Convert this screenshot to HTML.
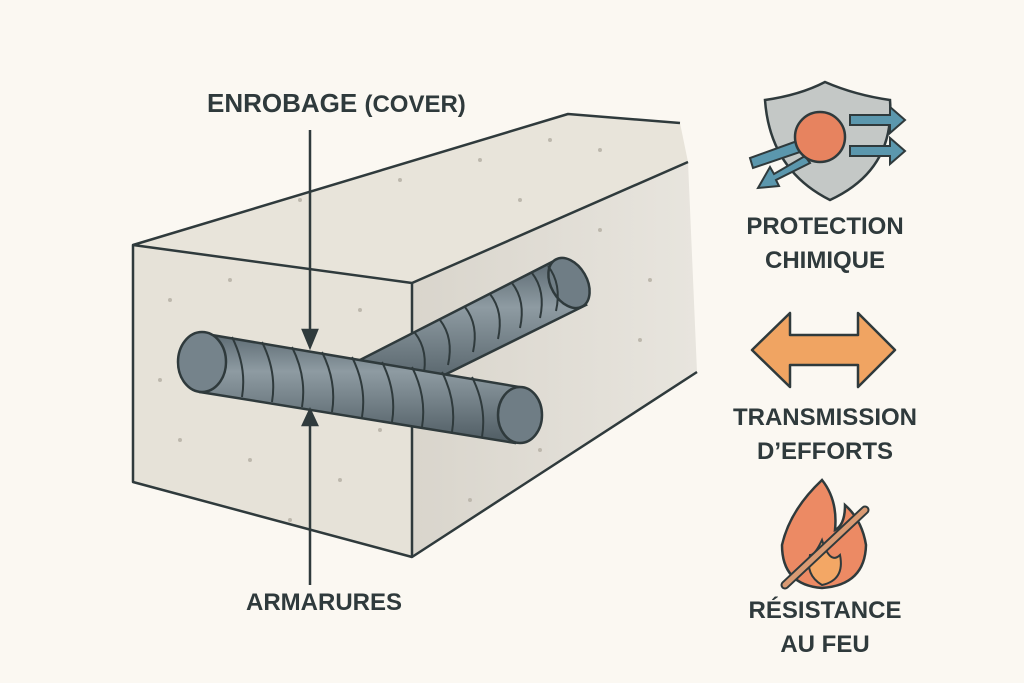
<!DOCTYPE html>
<html><head><meta charset="utf-8"><style>
html,body{margin:0;padding:0;background:#fbf8f2;}
svg{display:block}
text{font-family:"Liberation Sans",sans-serif;fill:#2f3a3c;font-weight:bold;}
</style></head><body>
<svg width="1024" height="683" viewBox="0 0 1024 683" xmlns="http://www.w3.org/2000/svg">
<defs>
<linearGradient id="bar" x1="0" y1="0" x2="0" y2="1">
<stop offset="0" stop-color="#5c6a72"/><stop offset="0.35" stop-color="#8e9ba2"/><stop offset="1" stop-color="#4f5c63"/>
</linearGradient>
<linearGradient id="side" x1="0" y1="0" x2="1" y2="0">
<stop offset="0" stop-color="#d9d5cc"/><stop offset="1" stop-color="#e8e5de"/>
</linearGradient>
</defs>
<rect width="1024" height="683" fill="#fbf8f2"/>
<polygon points="133,245 568,114 680,123 688,162 412,283" fill="#e8e4da"/>
<polygon points="412,283 688,162 697,372 412,557" fill="url(#side)"/>
<polygon points="133,245 412,283 412,557 133,482" fill="#e6e2d8"/>
<g fill="none" stroke="#2f3a3c" stroke-width="2.5" stroke-linejoin="round">
<polyline points="680,123 568,114 133,245 133,482 412,557 697,372"/>
<polyline points="133,245 412,283 688,162"/>
<line x1="412" y1="283" x2="412" y2="557"/>
</g>
<g fill="#bdb8ad">
<circle cx="170" cy="300" r="2"/><circle cx="230" cy="280" r="2"/><circle cx="360" cy="310" r="2"/><circle cx="180" cy="440" r="2"/><circle cx="250" cy="460" r="2"/><circle cx="340" cy="480" r="2"/><circle cx="380" cy="430" r="2"/><circle cx="160" cy="380" r="2"/><circle cx="290" cy="520" r="2"/>
<circle cx="300" cy="200" r="2"/><circle cx="400" cy="180" r="2"/><circle cx="480" cy="160" r="2"/><circle cx="550" cy="140" r="2"/><circle cx="520" cy="200" r="2"/><circle cx="600" cy="150" r="2"/>
<circle cx="460" cy="320" r="2"/><circle cx="600" cy="230" r="2"/><circle cx="650" cy="280" r="2"/><circle cx="540" cy="450" r="2"/><circle cx="470" cy="500" r="2"/><circle cx="640" cy="340" r="2"/>
</g>
<g stroke="#2f3a3c" stroke-width="2.5">
<path d="M360,360 L552,262 L586,305 L410,392 Z" fill="url(#bar)"/>
<ellipse cx="569" cy="283" rx="18" ry="27" transform="rotate(-30 569 283)" fill="#6f7d85"/>
<g fill="none" stroke-width="2">
<path d="M415,333 q14,18 8,45"/><path d="M440,320 q14,18 8,45"/><path d="M465,307 q14,18 8,45"/><path d="M490,294 q14,18 8,45"/><path d="M512,283 q14,18 8,45"/><path d="M532,273 q14,18 8,45"/><path d="M548,266 q14,18 8,45"/>
</g>
<path d="M200,333 L525,388 L515,443 L200,392 Z" fill="url(#bar)"/>
<ellipse cx="520" cy="415" rx="22" ry="28" fill="#6f7d85"/>
<ellipse cx="202" cy="362" rx="24" ry="30" fill="#75838b"/>
<g fill="none" stroke-width="2">
<path d="M232,337 q15,30 10,60"/><path d="M262,342 q15,30 10,60"/><path d="M292,347 q15,30 10,60"/><path d="M322,352 q15,30 10,60"/><path d="M352,357 q15,30 10,60"/><path d="M382,362 q15,30 10,60"/><path d="M412,367 q15,30 10,60"/><path d="M442,372 q15,30 10,60"/><path d="M472,377 q15,30 10,60"/>
</g>
</g>
<g stroke="#2f3a3c" stroke-width="2.5" fill="#2f3a3c">
<line x1="310" y1="130" x2="310" y2="335"/>
<polygon points="303,330 317,330 310,347"/>
<line x1="310" y1="422" x2="310" y2="585"/>
<polygon points="303,425 317,425 310,410"/>
</g>
<text x="207" y="112" font-size="26">ENROBAGE <tspan font-size="24">(COVER)</tspan></text>
<text x="246" y="610" font-size="24">ARMARURES</text>
<path d="M765,100 Q800,95 825,82 Q855,95 890,100 Q895,170 830,200 Q770,170 765,100 Z" fill="#c4c8c6" stroke="#2f3a3c" stroke-width="2.5"/>
<g fill="#5b97ad" stroke="#2f3a3c" stroke-width="2">
<polygon points="850,115 890,115 890,107 905,120 890,133 890,125 850,125"/>
<polygon points="850,146 890,146 890,138 905,151 890,164 890,156 850,156"/>
<polygon points="800,140 750,158 753,168 803,151"/>
<polygon points="805,156 774,174 770,167 758,188 779,186 776,180 810,163"/>
</g>
<circle cx="820" cy="137" r="25" fill="#e7835f" stroke="#2f3a3c" stroke-width="2.5"/>
<text x="825" y="234" font-size="24" text-anchor="middle">PROTECTION</text>
<text x="825" y="268" font-size="24" text-anchor="middle">CHIMIQUE</text>
<polygon points="752,350 790,313 790,335 858,335 858,313 895,350 858,387 858,365 790,365 790,387" fill="#f0a462" stroke="#2f3a3c" stroke-width="2.5" stroke-linejoin="round"/>
<text x="825" y="425" font-size="24" text-anchor="middle">TRANSMISSION</text>
<text x="825" y="459" font-size="24" text-anchor="middle">D’EFFORTS</text>
<path d="M822,480 Q790,510 782,545 Q782,585 822,588 Q865,585 866,545 Q862,520 845,505 Q845,525 835,530 Q838,500 822,480 Z" fill="#ec8a64" stroke="#2f3a3c" stroke-width="2.5"/>
<path d="M810,555 Q805,575 822,585 Q845,580 840,555 Q830,565 822,540 Q815,555 810,555 Z" fill="#f3a765" stroke="#2f3a3c" stroke-width="2"/>
<line x1="785" y1="585" x2="865" y2="510" stroke="#2f3a3c" stroke-width="9" stroke-linecap="round"/>
<line x1="785" y1="585" x2="865" y2="510" stroke="#d99a73" stroke-width="5" stroke-linecap="round"/>
<text x="825" y="618" font-size="24" text-anchor="middle">RÉSISTANCE</text>
<text x="825" y="652" font-size="24" text-anchor="middle">AU FEU</text>
</svg>
</body></html>
